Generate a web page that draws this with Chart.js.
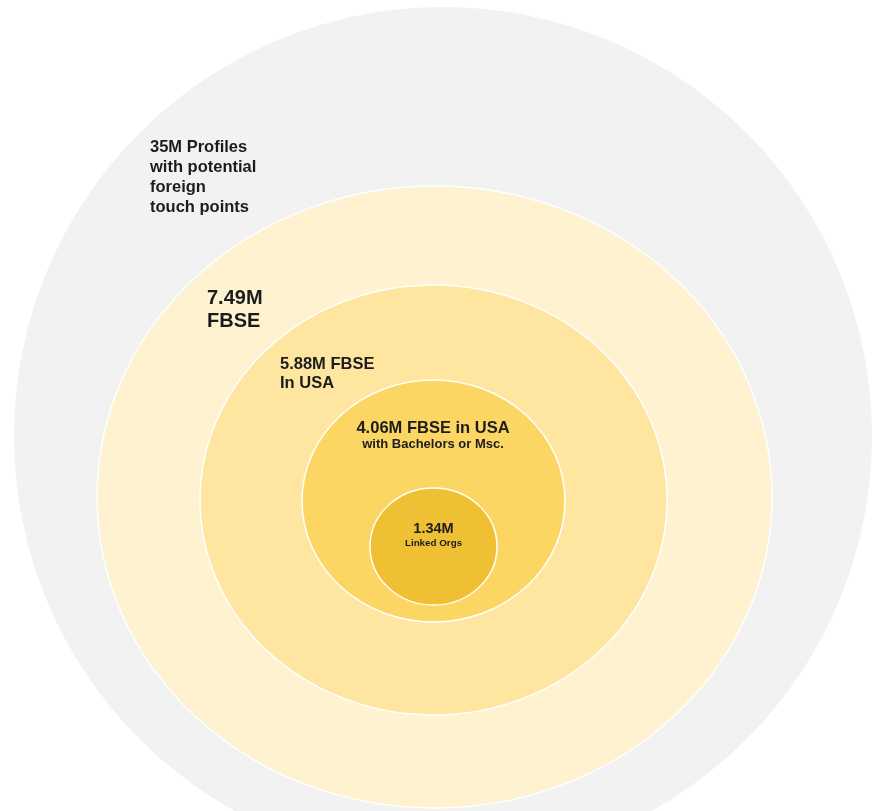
<!DOCTYPE html>
<html><head><meta charset="utf-8">
<script src="https://cdn.jsdelivr.net/npm/chart.js@4.4.0/dist/chart.umd.min.js"></script>
<style>html,body{margin:0;padding:0;background:#fff}#wrap{width:877px;height:811px;position:relative}</style>
</head><body><div id="wrap"><canvas id="c"></canvas></div>
<script>
// ---- data ----
const ringNames = ['Profiles with potential foreign touch points', 'FBSE', 'FBSE in USA', 'FBSE in USA with Bachelors or Msc.', 'Linked Orgs'];
const ringValues = [35, 7.49, 5.88, 4.06, 1.34]; // millions
const ringLabelLines = [
  ['35M Profiles', 'with potential', 'foreign', 'touch points'],
  ['7.49M', 'FBSE'],
  ['5.88M FBSE', 'In USA'],
  ['4.06M FBSE in USA', 'with Bachelors or Msc.'],
  ['1.34M', 'Linked Orgs']
];

// ---- layout (diagram geometry in scale units) ----
const ringCx = [443, 434.5, 433.5, 433.5, 433.5];
const ringCy = [436, 497, 500, 501, 546.5];
const ringRx = [429, 337.5, 233.5, 131.5, 63.5];
const ringRy = [429, 311, 215, 121, 58.5];
const ringColors = ['#f2f2f2', '#fef2d0', '#fee5a0', '#fcd662', '#f0c034'];
const ringBorders = [0, 1.5, 1.5, 1.5, 1.5];
const labelX = [150, 207, 280, 433, 433.5];
const labelY = [152, 304, 369, 433, 533];
const labelLH = [20, 23, 19, 15, 13];
const labelAlign = ['left', 'left', 'left', 'center', 'center'];
const labelSizes = [[16.5, 16.5, 16.5, 16.5], [20, 20], [16.5, 16.5], [16.5, 13], [14.5, 9.8]];
const FONT = '"Liberation Sans", Arial, sans-serif';

const datasets = [];
for (let i = ringValues.length - 1; i >= 0; i--) {
  datasets.push({
    label: ringNames[i],
    data: [{x: ringCx[i], y: ringCy[i]}],
    showLine: false,
    pointBackgroundColor: ringColors[i],
    backgroundColor: ringColors[i],
    pointBorderColor: '#ffffff',
    pointBorderWidth: ringBorders[i],
    clip: false,
    aspect: ringRy[i] / ringRx[i],
    pointRadius: (ctx) => {
      const xs = ctx.chart.scales.x;
      return xs.getPixelForValue(ringRx[i]) - xs.getPixelForValue(0);
    },
    pointHoverRadius: 0
  });
}

const ellipsePlugin = {
  id: 'ellipse',
  beforeDatasetDraw(chart, args) {
    const el = args.meta.data[0];
    const k = chart.data.datasets[args.index].aspect;
    const ctx = chart.ctx;
    ctx.save();
    ctx.translate(el.x, el.y);
    ctx.scale(1, k);
    ctx.translate(-el.x, -el.y);
  },
  afterDatasetDraw(chart) { chart.ctx.restore(); }
};

const labelPlugin = {
  id: 'ringLabels',
  afterDatasetsDraw(chart) {
    const ctx = chart.ctx, xs = chart.scales.x, ys = chart.scales.y;
    ctx.save();
    ctx.fillStyle = '#1c1c1c';
    ctx.textBaseline = 'alphabetic';
    ringLabelLines.forEach((lines, i) => {
      ctx.textAlign = labelAlign[i];
      const px = xs.getPixelForValue(labelX[i]);
      lines.forEach((t, j) => {
        ctx.font = 'bold ' + labelSizes[i][j] + 'px ' + FONT;
        ctx.fillText(t, px, ys.getPixelForValue(labelY[i] + j * labelLH[i]));
      });
    });
    ctx.restore();
  }
};

new Chart(document.getElementById('c'), {
  type: 'scatter',
  data: { datasets },
  options: {
    responsive: true,
    maintainAspectRatio: false,
    animation: false,
    events: [],
    layout: { padding: 0 },
    plugins: { legend: { display: false }, tooltip: { enabled: false } },
    scales: {
      x: { type: 'linear', min: 0, max: 877, display: false },
      y: { type: 'linear', min: 0, max: 811, reverse: true, display: false }
    }
  },
  plugins: [ellipsePlugin, labelPlugin]
});
</script>
</body></html>
